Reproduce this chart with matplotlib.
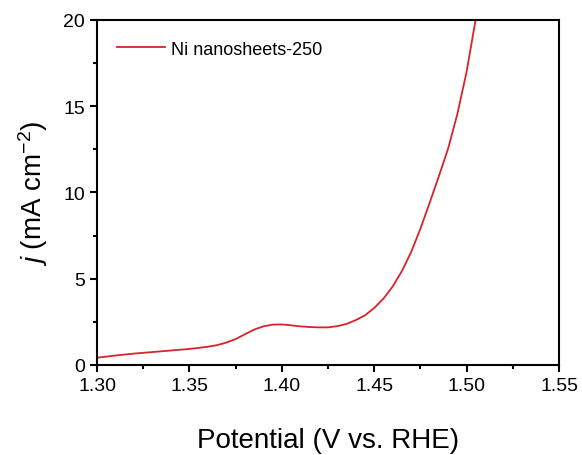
import numpy as np
import matplotlib.pyplot as plt
from matplotlib.ticker import MultipleLocator

plt.rcParams['font.family'] = ['Liberation Sans', 'DejaVu Sans']
plt.rcParams['mathtext.fontset'] = 'custom'
plt.rcParams['mathtext.it'] = 'Liberation Sans:italic'
plt.rcParams['mathtext.rm'] = 'Liberation Sans'

# potential (V vs. RHE) and current density (mA cm-2)
potential = [1.300, 1.310, 1.320, 1.330, 1.340, 1.350, 1.355, 1.360, 1.365,
             1.370, 1.375, 1.380, 1.385, 1.390, 1.395, 1.400, 1.405, 1.410,
             1.415, 1.420, 1.425, 1.430, 1.435, 1.440, 1.445, 1.450, 1.455,
             1.460, 1.465, 1.470, 1.475, 1.480, 1.485, 1.490, 1.495, 1.500,
             1.505]
current = [0.42, 0.55, 0.66, 0.75, 0.84, 0.93, 0.99, 1.06, 1.15,
           1.30, 1.50, 1.78, 2.05, 2.24, 2.34, 2.35, 2.30, 2.24,
           2.20, 2.18, 2.18, 2.25, 2.38, 2.60, 2.88, 3.30, 3.85,
           4.55, 5.45, 6.55, 7.90, 9.40, 10.95, 12.55, 14.55, 17.0,
           20.1]
label = "Ni nanosheets-250"

fig = plt.figure(figsize=(5.82, 4.56), dpi=100)
ax = fig.add_axes([0.1667, 0.1974, 0.7938, 0.7566])

ax.plot(potential, current, color='#d8232a', lw=1.3, label=label)

ax.set_xlim(1.30, 1.55)
ax.set_ylim(0, 20)
ax.set_xticks([1.30, 1.35, 1.40, 1.45, 1.50, 1.55])
ax.set_xticklabels(['1.30', '1.35', '1.40', '1.45', '1.50', '1.55'])
ax.set_yticks([0, 5, 10, 15, 20])
ax.xaxis.set_minor_locator(MultipleLocator(0.025))
ax.yaxis.set_minor_locator(MultipleLocator(2.5))
ax.tick_params(which='both', direction='out', width=1.5, top=False, right=False)
ax.tick_params(which='major', length=5, labelsize=14)
ax.tick_params(which='minor', length=3)
for s in ax.spines.values():
    s.set_linewidth(1.5)

ax.set_xlabel('Potential (V vs. RHE)', fontsize=20, labelpad=24)
ax.set_ylabel(r'$j$ (mA cm$^{-2}$)', fontsize=20, labelpad=10)

ax.legend(loc='upper left', frameon=False, fontsize=13, handlelength=2.65,
          handletextpad=0.35, borderpad=0, borderaxespad=0,
          bbox_to_anchor=(0.043, 0.94))

plt.savefig('out.png')
